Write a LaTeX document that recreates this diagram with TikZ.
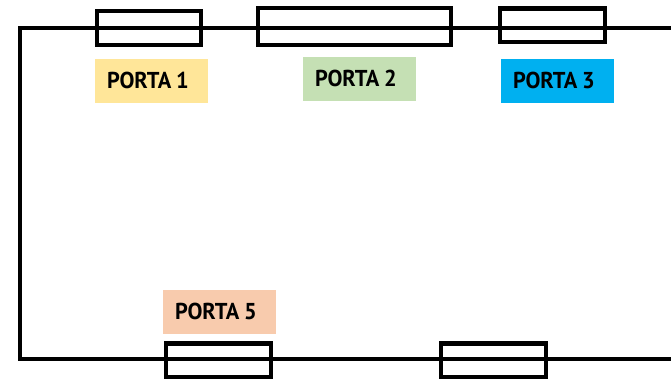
\documentclass[tikz,border=0pt]{standalone}
\usepackage{fontspec}
\setmainfont{PT Sans}
\newcommand{\plabel}[1]{\raisebox{1.5pt}{\scalebox{0.97}[1]{PORTA\hspace{0.22em}#1}}}
\begin{document}
\begin{tikzpicture}[x=1pt,y=1pt,
  wall/.style={line width=4.3pt},
  door/.style={draw,line width=4.3pt,inner sep=0pt,outer sep=0pt,rectangle},
  lbl/.style={rectangle,inner xsep=12pt,inner ysep=0pt,minimum width=113pt,minimum height=44pt,text width=89pt,align=left,font=\fontsize{23}{23}\bfseries}]
\useasboundingbox (0,0) rectangle (671,379);
\coordinate (tl) at (20,351);
\coordinate (bl) at (20,20);
\coordinate (tr) at (673,351);
\coordinate (br) at (673,20);
\draw[wall] (tr) -- (tl) -- (bl) -- (br);
\node[door,minimum width=104pt,minimum height=34pt] (d1) at (149,351) {};
\node[door,minimum width=193pt,minimum height=37pt] (d2) at (354.5,352.5) {};
\node[door,minimum width=105pt,minimum height=33.5pt] (d3) at (552.5,353.75) {};
\node[door,minimum width=105pt,minimum height=33.5pt] (d5) at (218.5,18.75) {};
\node[door,minimum width=105pt,minimum height=33.5pt] (d6) at (493.5,18.75) {};
\node[lbl,fill={rgb,255:red,255;green,230;blue,153}] (l1) at (151.5,298) {\plabel{1}};
\node[lbl,fill={rgb,255:red,197;green,224;blue,180}] (l2) at (359.5,300) {\plabel{2}};
\node[lbl,fill={rgb,255:red,0;green,176;blue,240}] (l3) at (557.5,298) {\plabel{3}};
\node[lbl,fill={rgb,255:red,248;green,203;blue,173}] (l5) at (219.5,67) {\plabel{5}};
\end{tikzpicture}
\end{document}
